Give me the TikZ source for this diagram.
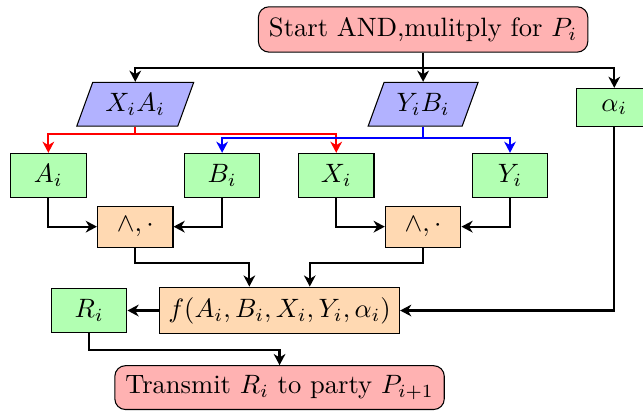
\documentclass[tikz,border=0pt]{standalone}
\usepackage{amsmath}
\usepackage{xcolor}
\usepackage{tikz}
\usetikzlibrary{shapes.geometric, arrows.meta, positioning, calc}
\tikzset{
  startstop/.style={rectangle, draw, rounded corners, minimum width=4.36cm,
                    minimum height=0.6cm, text centered, fill=red!30},
  io/.style={trapezium, trapezium left angle=70, trapezium right angle=110,
             draw, minimum height=0.58cm, text centered, fill=blue!30},
  var/.style={rectangle, draw, minimum width=1cm, minimum height=0.58cm,
              text centered, fill=green!30},
  process/.style={rectangle, draw, minimum width=1cm, minimum height=0.54cm,
                  text centered, fill=orange!30},
  arrow/.style={-{Stealth[length=4.2pt, width=4.4pt, inset=1.3pt]}, thick}
}

\begin{document}
\begin{tikzpicture}[on grid]
    \useasboundingbox (-5.6,0.39) rectangle (2.91,-5.05);

    \node[startstop] (start) {Start AND,mulitply for $P_i$};
    \node[io, below left=0.99cm and 3.81cm of start] (xa) {$X_iA_i$};
    \node[io, below=0.99cm of start] (yb) {$Y_iB_i$};
    \node[var, below right=1.03cm and 2.53cm of start, minimum height=0.5cm] (alpha) {$\alpha_i$};

    \node[var, below left=0.94cm and 1.15cm of xa] (a) {$A_i$};
    \node[var, below right=0.94cm and 1.15cm of xa] (b) {$B_i$};
    \node[var, below left=0.94cm and 1.15cm of yb] (x) {$X_i$};
    \node[var, below right=0.94cm and 1.15cm of yb] (y) {$Y_i$};

    \node[process, below right=0.68cm and 1.15cm of a] (and1) {$\wedge,\cdot$};
    \node[process, below right=0.68cm and 1.15cm of x] (and2) {$\wedge,\cdot$};

    \node[process, below right=1.11cm and 1.91cm of and1, minimum height=0.62cm] (f) {$f(A_i,B_i,X_i,Y_i,\alpha_i)$};
    \node[var, left=2.52cm of f] (r) {$R_i$};
    \node[startstop, below=1.02cm of f, minimum height=0.58cm] (send) {Transmit $R_i$ to party $P_{i+1}$};

    \draw[thick] (start.south) -- ++(0,-0.2) coordinate (split);
    \draw[arrow] (split) -| (xa.north);
    \draw[arrow] (split) -- (yb.north);
    \draw[arrow] (split) -| (alpha.north);

    \draw[arrow, red] (xa.south) -- ++(0,-0.1) coordinate (xsplit) -| (a.north);
    \draw[arrow, red] (xsplit) -| (x.north);
    \draw[arrow, blue] (yb.south) -- ++(0,-0.15) coordinate (ysplit) -| (b.north);
    \draw[arrow, blue] (ysplit) -| (y.north);

    \draw[arrow] (a.south) |- (and1.west);
    \draw[arrow] (b.south) |- (and1.east);
    \draw[arrow] (x.south) |- (and2.west);
    \draw[arrow] (y.south) |- (and2.east);

    \draw[arrow] (and1.south) -- ++(0,-0.2) -| ([xshift=-0.4cm]f.north);
    \draw[arrow] (and2.south) -- ++(0,-0.2) -| ([xshift=0.4cm]f.north);
    \draw[arrow] (alpha.south) |- (f.east);
    \draw[arrow] (f) -- (r);
    \draw[arrow] (r.south) -- ++(0,-0.22) -| (send.north);
\end{tikzpicture}
\end{document}
